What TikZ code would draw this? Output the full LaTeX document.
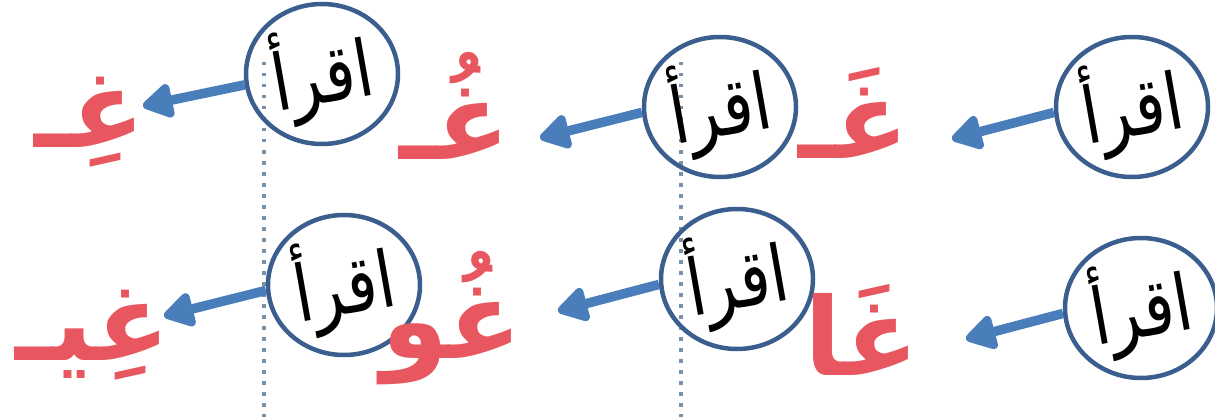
\documentclass[tikz,border=0pt]{standalone}
\usepackage{fontspec}
\usetikzlibrary{shapes.geometric,arrows.meta}
\TeXXeTstate=1
\newfontfamily\arabicfont[Script=Arabic]{DejaVu Sans}
\newfontfamily\arabicbold[Script=Arabic]{DejaVu Sans Bold}
\definecolor{ltrred}{RGB}{232,86,95}
\definecolor{arrblue}{RGB}{74,126,187}
\definecolor{ringblue}{RGB}{58,95,143}
\definecolor{dotgray}{RGB}{120,145,168}
\tikzset{
  readcircle/.style={draw=ringblue, line width=4.5pt, ellipse, minimum width=152pt, minimum height=140pt, inner sep=0pt},
  readtext/.style={inner sep=0pt, rotate=10, font=\arabicfont\fontsize{64}{68}\selectfont},
  readarrow/.style={draw=arrblue, line width=9.5pt, -{Triangle[length=34pt,width=38pt,round]}},
  letter/.style={text=ltrred, font=\arabicbold\fontsize{108}{120}\selectfont, inner sep=0pt},
  divider/.style={draw=dotgray, line width=3.5pt, dash pattern=on 3.5pt off 7.5pt},
}
\newcommand{\readword}{\scalebox{1}[1.22]{\beginR اقرأ\endR}}
\begin{document}
\begin{tikzpicture}[x=1pt,y=-1pt]
\useasboundingbox (0,0) rectangle (1215,417);
% dividers
\coordinate (d1t) at (264,62); \coordinate (d1b) at (264,417);
\coordinate (d2t) at (681,62); \coordinate (d2b) at (681,417);
\draw[divider] (d1t) -- (d1b);
\draw[divider] (d2t) -- (d2b);
% circles
\node[readcircle] (c1) at (322,74) {};
\node[readcircle] (c2) at (720,107) {};
\node[readcircle] (c3) at (1132,107) {};
\node[readcircle] (c4) at (344,285) {};
\node[readcircle] (c5) at (737,279) {};
\node[readcircle] (c6) at (1141,308) {};
\node[readtext] (w1) at (c1) {\readword};
\node[readtext] (w2) at (c2) {\readword};
\node[readtext] (w3) at (c3) {\readword};
\node[readtext] (w4) at (c4) {\readword};
\node[readtext] (w5) at (c5) {\readword};
\node[readtext] (w6) at (c6) {\readword};
% letters
\node[letter] (l1) at (90,122) {\beginR غِـ\endR};
\node[letter] (l2) at (455,106) {\beginR غُـ\endR};
\node[letter] (l3) at (854,113) {\beginR غَـ\endR};
\node[letter] (l4) at (93,335) {\beginR غِيـ\endR};
\node[letter] (l5) at (452,318) {\beginR غُو\endR};
\node[letter] (l6) at (862,330) {\beginR غَا\endR};
% arrow tips
\coordinate (t1) at (143,106);
\coordinate (t2) at (540,138);
\coordinate (t3) at (952,139);
\coordinate (t4) at (164,316);
\coordinate (t5) at (558,311);
\coordinate (t6) at (966,339);
\draw[readarrow] (c1.188) -- (t1);
\draw[readarrow] (c2.184) -- (t2);
\draw[readarrow] (c3.184) -- (t3);
\draw[readarrow] (c4.184) -- (t4);
\draw[readarrow] (c5.184) -- (t5);
\draw[readarrow] (c6.184) -- (t6);
\end{tikzpicture}
\end{document}
